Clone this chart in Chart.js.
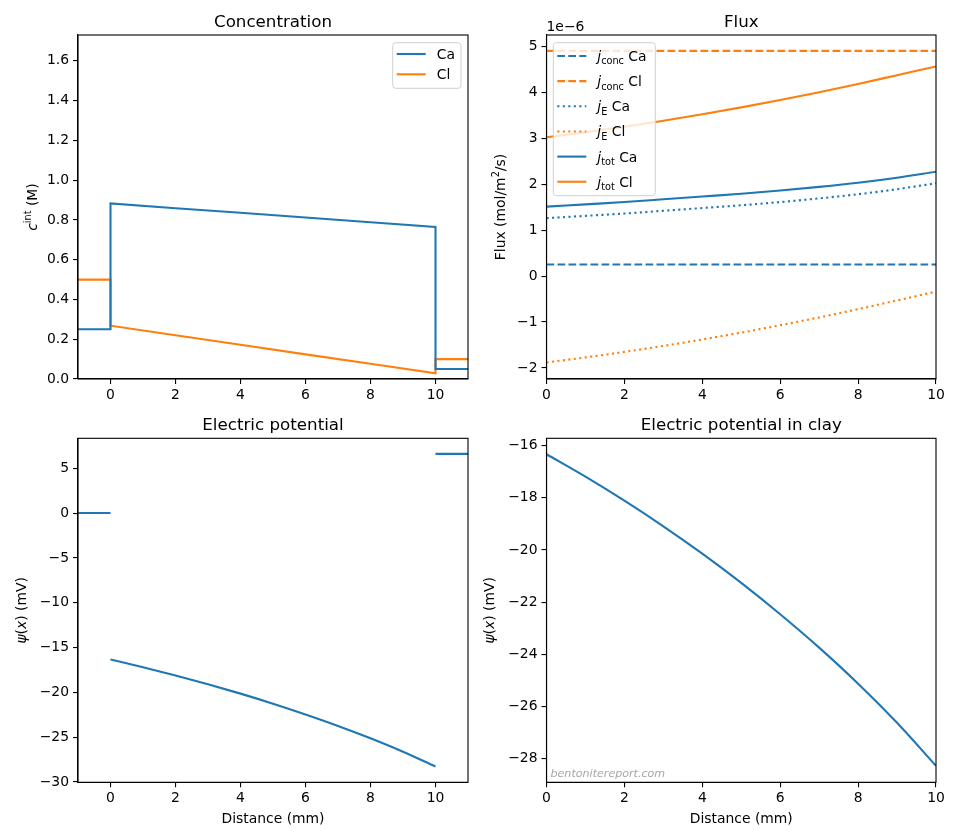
<!DOCTYPE html>
<html>
<head>
<meta charset="utf-8">
<script src="https://cdn.jsdelivr.net/npm/chart.js@4.4.1/dist/chart.umd.min.js"></script>
<style>
  body { margin: 0; background: #fff; }
  #fig { position: relative; width: 960px; height: 840px; background: #fff; }
  canvas { position: absolute; }
</style>
</head>
<body>
<div id="fig">
  <canvas id="cConc" width="480" height="420" style="left:0;top:0"></canvas>
  <canvas id="cFlux" width="480" height="420" style="left:480px;top:0"></canvas>
  <canvas id="cPot" width="480" height="440" style="left:0;top:400px"></canvas>
  <canvas id="cClay" width="480" height="440" style="left:480px;top:400px"></canvas>
</div>
<script>
// --- datos ---
// concentración (M), reservorio izq., arcilla, reservorio der.
const xConc = [-1, 0, 0, 2, 4, 6, 8, 10, 10, 11];
const cCa   = [0.25, 0.25, 0.883, 0.859, 0.836, 0.812, 0.788, 0.765, 0.05, 0.05];
const cCl   = [0.50, 0.50, 0.268, 0.220, 0.172, 0.124, 0.077, 0.029, 0.10, 0.10];

// flujos en la arcilla (x 1e-6 mol/m2/s)
const xClay  = [0, 1, 2, 3, 4, 5, 6, 7, 8, 9, 10];
const jConcCa = [0.25, 0.25, 0.25, 0.25, 0.25, 0.25, 0.25, 0.25, 0.25, 0.25, 0.25];
const jConcCl = [4.90, 4.90, 4.90, 4.90, 4.90, 4.90, 4.90, 4.90, 4.90, 4.90, 4.90];
const jECa   = [1.26, 1.31, 1.36, 1.42, 1.48, 1.54, 1.61, 1.69, 1.78, 1.89, 2.02];
const jECl   = [-1.88, -1.77, -1.65, -1.52, -1.38, -1.23, -1.07, -0.90, -0.72, -0.53, -0.34];
const jTotCa = [1.51, 1.56, 1.61, 1.67, 1.73, 1.79, 1.86, 1.94, 2.03, 2.14, 2.27];
const jTotCl = [3.02, 3.13, 3.25, 3.38, 3.52, 3.67, 3.83, 4.00, 4.18, 4.37, 4.56];

// potencial eléctrico (mV)
const xLeft = [-1, 0];
const psiLeft = [0, 0];
const xRight = [10, 11];
const psiRight = [6.6, 6.6];
const psiClay = [-16.33, -17.19, -18.11, -19.09, -20.14, -21.26, -22.46, -23.74, -25.12, -26.62, -28.27];

// ticks
const distTicks = [0, 2, 4, 6, 8, 10];
const concTicks = [0, 0.2, 0.4, 0.6, 0.8, 1.0, 1.2, 1.4, 1.6];
const fluxTicks = [-2, -1, 0, 1, 2, 3, 4, 5];
const potTicks = [-30, -25, -20, -15, -10, -5, 0, 5];
const clayTicks = [-28, -26, -24, -22, -20, -18, -16];

const C0 = '#1f77b4', C1 = '#ff7f0e';
const FONT = 'DejaVu Sans';
const FS = 13.9;
const DASH = [7.7, 3.3], DOT = [2.1, 3.4];

Chart.defaults.font.family = FONT;
Chart.defaults.font.size = FS;
Chart.defaults.color = '#000';

function pts(xs, ys) {
  return xs.map((x, i) => ({x: x, y: ys[i]}));
}

function fmt(d) {
  return v => (v < 0 ? '\u2212' : '') + Math.abs(v).toFixed(d);
}

function scaleOpts(axis, min, max, vals, f, fit) {
  return {
    type: 'linear', min: min, max: max,
    afterBuildTicks: s => { s.ticks = vals.map(v => ({value: v})); },
    afterFit: s => { if (axis === 'y') s.width = fit; else s.height = fit; },
    grid: {display: true, drawOnChartArea: false, drawTicks: true, tickLength: 5, color: '#000', lineWidth: 1.1},
    border: {display: true, color: '#000', width: 1.1},
    ticks: {color: '#000', font: {size: FS}, padding: axis === 'y' ? 4 : 3, maxRotation: 0, autoSkip: false,
            callback: v => f(v)}
  };
}

function ds(data, color, dash, smooth) {
  return {
    data: data, borderColor: color, borderWidth: 2.1, borderDash: dash || [],
    pointRadius: 0, fill: false, tension: 0,
    cubicInterpolationMode: smooth ? 'monotone' : 'default'
  };
}

// texto con sub/superíndices
function richWidth(ctx, parts, size) {
  let w = 0;
  parts.forEach(p => {
    const s = (p.sub || p.sup) ? size * 0.7 : size;
    ctx.font = (p.it ? 'italic ' : '') + s + 'px ' + FONT;
    w += ctx.measureText(p.t).width;
  });
  return w;
}

function drawRich(ctx, parts, x, y, align, size) {
  size = size || FS;
  let cx = x;
  const w = richWidth(ctx, parts, size);
  if (align === 'center') cx = x - w / 2;
  ctx.textAlign = 'left';
  ctx.textBaseline = 'alphabetic';
  parts.forEach(p => {
    const s = (p.sub || p.sup) ? size * 0.7 : size;
    ctx.font = (p.it ? 'italic ' : '') + s + 'px ' + FONT;
    const dy = p.sub ? size * 0.25 : (p.sup ? -size * 0.42 : 0);
    ctx.fillText(p.t, cx, y + dy);
    cx += ctx.measureText(p.t).width;
  });
}

const deco = {
  id: 'deco',
  afterDraw(chart, args, o) {
    const ctx = chart.ctx, a = chart.chartArea;
    ctx.save();
    ctx.fillStyle = '#000';
    // marco
    ctx.strokeStyle = '#000';
    ctx.lineWidth = 1.1;
    ctx.strokeRect(a.left, a.top, a.right - a.left, a.bottom - a.top);
    // título
    ctx.font = '16.7px ' + FONT;
    ctx.textAlign = 'center';
    ctx.textBaseline = 'alphabetic';
    ctx.fillText(o.title, (a.left + a.right) / 2, a.top - 8.3);
    // eje y
    ctx.save();
    ctx.translate(o.ylabX, (a.top + a.bottom) / 2);
    ctx.rotate(-Math.PI / 2);
    drawRich(ctx, o.ylab, 0, 0, 'center');
    ctx.restore();
    // eje x
    if (o.xlab) {
      ctx.font = FS + 'px ' + FONT;
      ctx.textAlign = 'center';
      ctx.fillText(o.xlab, (a.left + a.right) / 2, o.xlabY);
    }
    if (o.offset) {
      ctx.font = FS + 'px ' + FONT;
      ctx.textAlign = 'left';
      ctx.fillText(o.offset, a.left, a.top - 4.5);
    }
    if (o.mark) {
      ctx.font = 'italic 11.1px ' + FONT;
      ctx.fillStyle = '#a6a6a6';
      ctx.textAlign = 'left';
      ctx.fillText(o.mark, a.left + 4, a.bottom - 5.5);
      ctx.fillStyle = '#000';
    }
    // leyenda
    if (o.legend) {
      const L = o.legend;
      ctx.beginPath();
      ctx.roundRect(L.x, L.y, L.w, L.h, 3);
      ctx.fillStyle = 'rgba(255,255,255,0.8)';
      ctx.fill();
      ctx.strokeStyle = '#d0d0d0';
      ctx.lineWidth = 1;
      ctx.stroke();
      L.items.forEach((it, i) => {
        const y = L.y0 + i * L.dy;
        ctx.beginPath();
        ctx.setLineDash(it.dash);
        ctx.strokeStyle = it.color;
        ctx.lineWidth = 2.1;
        ctx.moveTo(L.x + 4, y);
        ctx.lineTo(L.x + 33, y);
        ctx.stroke();
        ctx.setLineDash([]);
        ctx.fillStyle = '#000';
        drawRich(ctx, it.label, L.x + 44, y + 5, 'left');
      });
    }
    ctx.restore();
  }
};

function lineChart(id, datasets, x, y, pad, d) {
  return new Chart(document.getElementById(id), {
    type: 'line',
    data: {datasets: datasets},
    options: {
      responsive: false, animation: false, devicePixelRatio: 1,
      layout: {padding: pad},
      scales: {x: x, y: y},
      plugins: {legend: {display: false}, title: {display: false}, tooltip: {enabled: false}, deco: d}
    },
    plugins: [deco]
  });
}

// --- Concentración ---
lineChart('cConc',
  [ds(pts(xConc, cCa), C0), ds(pts(xConc, cCl), C1)],
  scaleOpts('x', -1, 11, distTicks, fmt(0), 41),
  scaleOpts('y', 0, 1.73, concTicks, fmt(1), 78),
  {top: 35, right: 12, bottom: 0, left: 0},
  {title: 'Concentration', ylabX: 36.5,
   ylab: [{t: 'c', it: true}, {t: 'int', sup: true}, {t: ' (M)'}],
   legend: {x: 392.7, y: 42.7, w: 68.3, h: 45.6, y0: 54, dy: 20.3, items: [
     {color: C0, dash: [], label: [{t: 'Ca'}]},
     {color: C1, dash: [], label: [{t: 'Cl'}]}
   ]}});

// --- Flujo ---
const jLab = (s, ion) => [{t: 'j', it: true}, {t: s, sub: true}, {t: ' ' + ion}];
lineChart('cFlux',
  [ds(pts(xClay, jConcCa), C0, DASH), ds(pts(xClay, jConcCl), C1, DASH),
   ds(pts(xClay, jECa), C0, DOT, true), ds(pts(xClay, jECl), C1, DOT, true),
   ds(pts(xClay, jTotCa), C0, [], true), ds(pts(xClay, jTotCl), C1, [], true)],
  scaleOpts('x', 0, 10, distTicks, fmt(0), 41),
  scaleOpts('y', -2.24, 5.245, fluxTicks, fmt(0), 66.5),
  {top: 35, right: 24, bottom: 0, left: 0},
  {title: 'Flux', ylabX: 25, offset: '1e\u22126',
   ylab: [{t: 'Flux (mol/m'}, {t: '2', sup: true}, {t: '/s)'}],
   legend: {x: 73.3, y: 42.7, w: 102, h: 153, y0: 56, dy: 25.15, items: [
     {color: C0, dash: DASH, label: jLab('conc', 'Ca')},
     {color: C1, dash: DASH, label: jLab('conc', 'Cl')},
     {color: C0, dash: DOT, label: jLab('E', 'Ca')},
     {color: C1, dash: DOT, label: jLab('E', 'Cl')},
     {color: C0, dash: [], label: jLab('tot', 'Ca')},
     {color: C1, dash: [], label: jLab('tot', 'Cl')}
   ]}});

// --- Potencial eléctrico ---
const psiLab = [{t: '\u03c8', it: true}, {t: '('}, {t: 'x', it: true}, {t: ') (mV)'}];
lineChart('cPot',
  [ds(pts(xLeft, psiLeft), C0), ds(pts(xClay, psiClay), C0, [], true), ds(pts(xRight, psiRight), C0)],
  scaleOpts('x', -1, 11, distTicks, fmt(0), 57.7),
  scaleOpts('y', -30.03, 8.34, potTicks, fmt(0), 78),
  {top: 38.3, right: 12, bottom: 0, left: 0},
  {title: 'Electric potential', ylabX: 25.5, ylab: psiLab, xlab: 'Distance (mm)', xlabY: 423});

// --- Potencial en la arcilla ---
lineChart('cClay',
  [ds(pts(xClay, psiClay), C0, [], true)],
  scaleOpts('x', 0, 10, distTicks, fmt(0), 57.7),
  scaleOpts('y', -28.9, -15.72, clayTicks, fmt(0), 66.5),
  {top: 38.3, right: 24, bottom: 0, left: 0},
  {title: 'Electric potential in clay', ylabX: 13.5, ylab: psiLab, xlab: 'Distance (mm)', xlabY: 423,
   mark: 'bentonitereport.com'});
</script>
</body>
</html>
